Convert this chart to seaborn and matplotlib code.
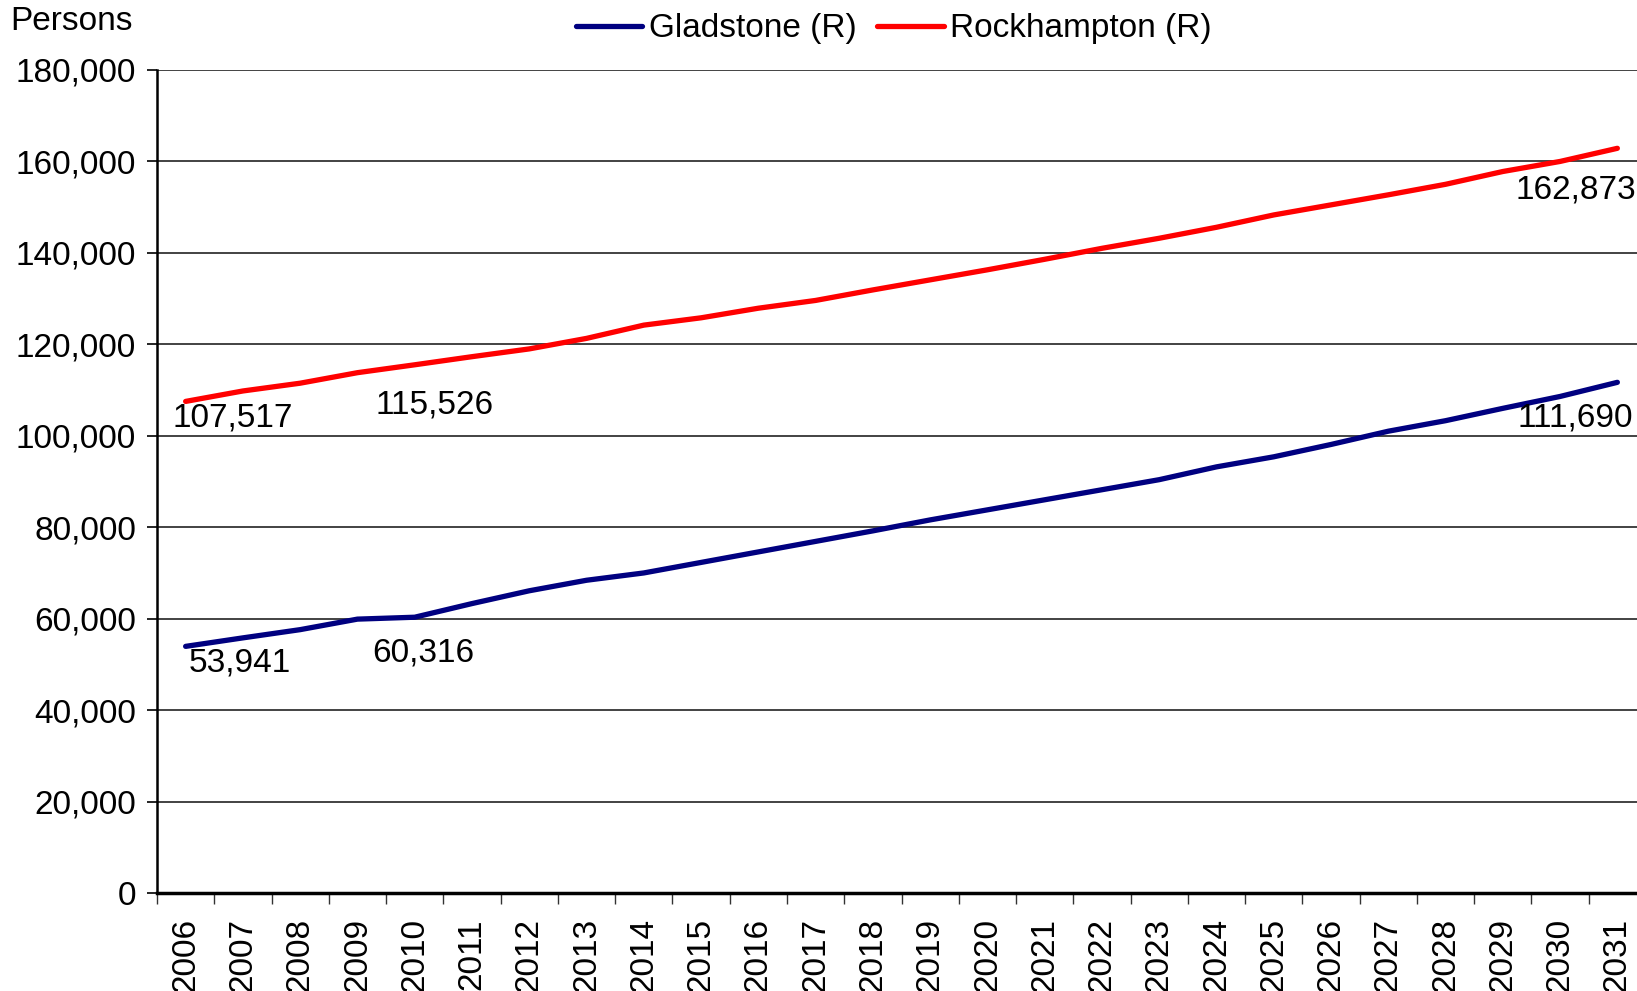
import numpy as np
import pandas as pd
import seaborn as sns
import matplotlib
matplotlib.use("Agg")
import matplotlib.pyplot as plt
from matplotlib.ticker import FuncFormatter

# projected population, persons
YEARS = list(range(2006, 2032))
GLADSTONE = [53941, 55800, 57600, 59900, 60316, 63300, 66100, 68400, 70000, 72300,
             74600, 76900, 79200, 81600, 83800, 86000, 88200, 90400, 93200, 95400,
             98100, 101000, 103300, 106000, 108600, 111690]
ROCKHAMPTON = [107517, 109800, 111500, 113800, 115526, 117300, 119000, 121300, 124200, 125800,
               127900, 129600, 131900, 134100, 136300, 138600, 141000, 143200, 145600, 148300,
               150500, 152700, 155000, 157800, 160000, 162873]
SERIES = ["Gladstone (R)", "Rockhampton (R)"]
COLORS = ["#000080", "#FF0000"]
Y_TICKS = list(range(0, 180001, 20000))

FS = 24


def main():
    sns.set_theme(style="white")
    plt.rcParams["font.family"] = ["Liberation Sans", "DejaVu Sans"]
    plt.rcParams["text.color"] = "black"

    df = pd.DataFrame({
        "year": YEARS * 2,
        "persons": GLADSTONE + ROCKHAMPTON,
        "series": [SERIES[0]] * len(YEARS) + [SERIES[1]] * len(YEARS),
    })

    fig = plt.figure(figsize=(16.37, 9.91), dpi=100)
    ax = fig.add_axes([157 / 1637, 1 - 893 / 991, (1646 - 157) / 1637, (893 - 70) / 991])

    sns.lineplot(data=df, x="year", y="persons", hue="series", hue_order=SERIES,
                 palette=COLORS, linewidth=3.8, ax=ax)
    for line in ax.lines:
        line.set_solid_capstyle("round")
        line.set_solid_joinstyle("round")

    ax.set_xlim(YEARS[0] - 0.5, YEARS[-1] + 0.5)
    ax.set_ylim(0, 180000)
    ax.set_yticks(Y_TICKS)
    ax.yaxis.set_major_formatter(FuncFormatter(lambda v, p: f"{int(v):,}"))
    ax.set_xticks(YEARS)
    ax.set_xticklabels([str(y) for y in YEARS], rotation=90)
    ax.set_xticks(np.arange(YEARS[0] - 0.5, YEARS[-1] + 1), minor=True)
    ax.set_xlabel("")
    ax.set_ylabel("")

    ax.grid(axis="y", color="#222222", linewidth=1.2)
    ax.set_axisbelow(True)
    for side in ["top", "right"]:
        ax.spines[side].set_visible(False)
    ax.spines["left"].set_color("black")
    ax.spines["left"].set_linewidth(1.8)
    ax.spines["bottom"].set_color("black")
    ax.spines["bottom"].set_linewidth(2.5)

    ax.tick_params(axis="y", which="major", left=True, length=7, width=1.2,
                   color="black", pad=8, labelsize=FS, labelcolor="black")
    ax.tick_params(axis="x", which="major", bottom=True, length=0, pad=18,
                   labelsize=FS, labelcolor="black")
    ax.tick_params(axis="x", which="minor", bottom=True, length=8, width=1.0,
                   color="#333333")

    # data labels
    labels = [
        (0, GLADSTONE, 54, -17), (4, GLADSTONE, 9, -36), (25, GLADSTONE, -42, -36),
        (0, ROCKHAMPTON, 47, -17), (4, ROCKHAMPTON, 20, -40), (25, ROCKHAMPTON, -42, -42),
    ]
    for i, vals, dx, dy in labels:
        ax.annotate(f"{vals[i]:,}", xy=(YEARS[i], vals[i]), xytext=(dx, dy),
                    textcoords="offset pixels", ha="center", va="center",
                    fontsize=FS, color="black")

    ax.legend(loc="center", bbox_to_anchor=(0.546, 0.971), bbox_transform=fig.transFigure,
              ncol=2, frameon=False, fontsize=FS, handlelength=2.0,
              handletextpad=0.2, columnspacing=0.6, labelcolor="black")

    fig.text(0.006, 1 - 21 / 991, "Persons", fontsize=FS, ha="left", va="center",
             color="black")

    fig.savefig("out.png", dpi=100)


if __name__ == "__main__":
    main()
